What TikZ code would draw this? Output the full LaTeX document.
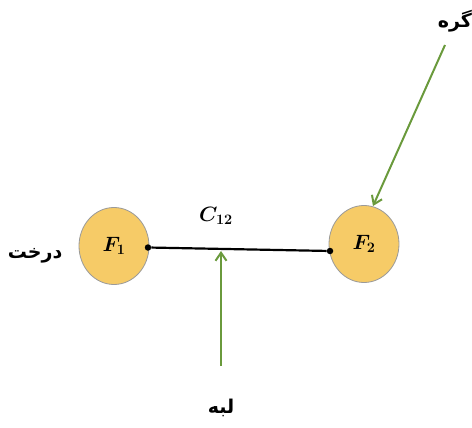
\documentclass[tikz,border=0pt]{standalone}
\usepackage{fontspec}
\usepackage{amsmath,bm}
\TeXXeTstate=1
\newfontfamily\arabicfont[Script=Arabic]{DejaVu Sans}
\usetikzlibrary{arrows.meta,shapes.geometric}
\definecolor{nodefill}{HTML}{F6CB67}
\definecolor{nodeline}{HTML}{9A9A9A}
\definecolor{arrgreen}{HTML}{6A9A3C}
\tikzset{
  x=1pt,y=-1pt,
  vertex/.style={ellipse,fill=nodefill,draw=nodeline,line width=0.8pt,minimum width=70pt,minimum height=77pt,inner sep=0pt,font=\fontsize{21}{23}\selectfont},
  pointer/.style={draw=arrgreen,line width=2pt,-{Straight Barb[length=8pt,width=11pt,line width=2pt]}},
  edgeline/.style={line width=2.2pt,black},
  dotend/.style={circle,fill=black,inner sep=0pt,minimum size=6.5pt},
  fa/.style={font=\arabicfont\bfseries\fontsize{19}{21}\selectfont}
}
\begin{document}
\begin{tikzpicture}
\useasboundingbox (0,0) rectangle (472,428);
\node[vertex] (f1) at (114,246) {$\bm{F_1}$};
\node[vertex] (f2) at (364,244) {$\bm{F_2}$};
\node[dotend] (d1) at (148,247.5) {};
\node[dotend] (d2) at (330,251) {};
\draw[edgeline] (d1) -- (d2);
\node[font=\fontsize{21}{23}\selectfont] (c12) at (216,216) {$\bm{C_{12}}$};
\coordinate (e1) at (221,366);
\coordinate (e2) at (221,251);
\draw[pointer] (e1) -- (e2);
\coordinate (g1) at (445,45);
\coordinate (g2) at (373,206);
\draw[pointer] (g1) -- (g2);
\node[fa] (leb) at (221,408) {\beginR لبه\endR};
\node[fa] (gereh) at (455,21) {\beginR گره\endR};
\node[fa] (tree) at (35,256) {\beginR درخت\endR};
\end{tikzpicture}
\end{document}
